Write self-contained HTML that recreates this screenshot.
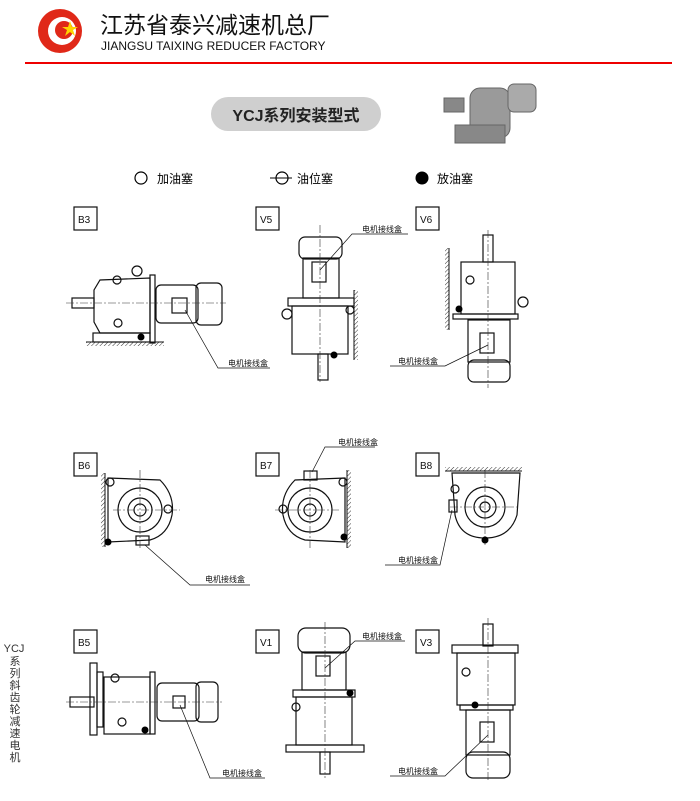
<!DOCTYPE html>
<html><head><meta charset="utf-8"><style>
html,body{margin:0;padding:0;background:#fff;}
svg{display:block;}
text{font-family:"Liberation Sans","Noto Sans CJK SC",sans-serif;}
</style></head><body>
<svg width="700" height="801" viewBox="0 0 700 801" xmlns="http://www.w3.org/2000/svg">
<defs>
<pattern id="h" width="3" height="3" patternUnits="userSpaceOnUse" patternTransform="rotate(45)"><line x1="0" y1="0" x2="0" y2="3" stroke="#333" stroke-width="1"/></pattern>
</defs>
<!-- header -->
<circle cx="60" cy="31" r="22" fill="#e02818"/>
<circle cx="62" cy="31" r="14" fill="#fff"/>
<circle cx="64" cy="30" r="9" fill="#e02818"/>
<polygon points="70,21 72,27 78,27 73,30 75,36 70,32 65,36 67,30 62,27 68,27" fill="#ffd400"/>
<text x="100" y="33" font-size="23" fill="#111">江苏省泰兴减速机总厂</text>
<text x="101" y="50" font-size="12" fill="#111">JIANGSU TAIXING REDUCER FACTORY</text>
<rect x="25" y="62" width="647" height="2" fill="#e00"/>
<rect x="211" y="97" width="170" height="34" rx="17" fill="#cfcfcf"/>
<text x="296" y="121" font-size="16" font-weight="bold" text-anchor="middle" fill="#222">YCJ系列安装型式</text>
<!-- product -->
<g fill="#9a9a9a" stroke="#666">
<rect x="470" y="88" width="40" height="50" rx="10"/>
<rect x="508" y="84" width="28" height="28" rx="6" fill="#aaa"/>
<rect x="444" y="98" width="20" height="14" fill="#888"/>
<rect x="455" y="125" width="50" height="18" fill="#888"/>
</g>
<!-- legend -->
<circle cx="141" cy="178" r="6" fill="none" stroke="#000" stroke-width="1.2"/>
<text x="157" y="183" font-size="12">加油塞</text>
<line x1="270" y1="178" x2="292" y2="178" stroke="#000"/>
<circle cx="282" cy="178" r="6" fill="none" stroke="#000" stroke-width="1.2"/>
<text x="297" y="183" font-size="12">油位塞</text>
<circle cx="422" cy="178" r="6.5" fill="#000"/>
<text x="437" y="183" font-size="12">放油塞</text>
<!-- vertical side text -->
<g font-size="11" fill="#333" text-anchor="middle">
<text x="14" y="652">YCJ</text><text x="15" y="665">系</text><text x="15" y="677">列</text><text x="15" y="689">斜</text><text x="15" y="701">齿</text><text x="15" y="713">轮</text><text x="15" y="725">减</text><text x="15" y="737">速</text><text x="15" y="749">电</text><text x="15" y="761">机</text>
</g>
<g fill="none" stroke="#111" stroke-width="1.2">
<rect x="74" y="207" width="23" height="23"/><rect x="256" y="207" width="23" height="23"/><rect x="416" y="207" width="23" height="23"/>
<rect x="74" y="453" width="23" height="23"/><rect x="256" y="453" width="23" height="23"/><rect x="416" y="453" width="23" height="23"/>
<rect x="74" y="630" width="23" height="23"/><rect x="256" y="630" width="23" height="23"/><rect x="416" y="630" width="23" height="23"/>
<!-- B3 -->
<rect x="72" y="298" width="22" height="10"/>
<path d="M94,290 L100,280 L150,278 L150,333 L100,333 L94,322 Z"/>
<rect x="150" y="275" width="5" height="68"/>
<rect x="93" y="333" width="57" height="9"/>
<rect x="156" y="285" width="42" height="38" rx="5"/>
<rect x="196" y="283" width="26" height="42" rx="5"/>
<rect x="172" y="298" width="15" height="15"/>
<circle cx="137" cy="271" r="5"/><circle cx="117" cy="280" r="4"/><circle cx="118" cy="323" r="4"/>
<path d="M185,310 L218,368 L270,368" stroke-width="0.7"/>
<!-- V5 -->
<rect x="299" y="237" width="43" height="22" rx="6"/>
<rect x="303" y="258" width="36" height="40"/>
<rect x="312" y="262" width="14" height="20"/>
<rect x="288" y="298" width="66" height="8"/>
<rect x="292" y="306" width="56" height="48"/>
<rect x="318" y="354" width="10" height="26"/>
<circle cx="287" cy="314" r="5"/><circle cx="350" cy="310" r="4"/>
<path d="M320,270 L352,234 L408,234" stroke-width="0.7"/>
<!-- V6 -->
<rect x="483" y="235" width="10" height="27"/>
<rect x="461" y="262" width="54" height="52"/>
<rect x="453" y="314" width="65" height="5"/>
<rect x="468" y="320" width="42" height="42"/>
<rect x="468" y="360" width="42" height="22" rx="6"/>
<rect x="480" y="333" width="14" height="20"/>
<circle cx="470" cy="280" r="4"/><circle cx="523" cy="302" r="5"/>
<path d="M488,345 L445,366 L390,366" stroke-width="0.7"/>
<!-- B6 -->
<path d="M108,478 L160,480 Q175,495 172,515 Q168,535 150,540 L108,542 Z"/>
<circle cx="140" cy="510" r="22"/><circle cx="140" cy="510" r="12"/><circle cx="140" cy="510" r="6"/>
<rect x="136" y="536" width="13" height="9"/>
<circle cx="110" cy="482" r="4"/><circle cx="168" cy="509" r="4"/>
<path d="M145,545 L190,585 L250,585" stroke-width="0.7"/>
<!-- B7 -->
<path d="M345,478 L295,480 Q280,495 283,515 Q287,535 305,540 L345,542 Z"/>
<circle cx="310" cy="510" r="22"/><circle cx="310" cy="510" r="12"/><circle cx="310" cy="510" r="6"/>
<rect x="304" y="471" width="13" height="9"/>
<circle cx="343" cy="482" r="4"/><circle cx="283" cy="509" r="4"/>
<path d="M312,472 L325,447 L375,447" stroke-width="0.7"/>
<!-- B8 -->
<path d="M452,473 L520,473 L517,515 Q510,538 485,538 Q460,538 455,515 Z"/>
<circle cx="485" cy="507" r="20"/><circle cx="485" cy="507" r="11"/><circle cx="485" cy="507" r="5"/>
<rect x="449" y="500" width="8" height="12"/>
<circle cx="455" cy="489" r="4"/>
<path d="M452,510 L440,565 L385,565" stroke-width="0.7"/>
<!-- B5 -->
<rect x="70" y="697" width="24" height="10"/>
<rect x="90" y="663" width="7" height="72"/>
<rect x="97" y="672" width="6" height="55"/>
<rect x="104" y="677" width="46" height="57"/>
<rect x="150" y="672" width="5" height="62"/>
<rect x="157" y="683" width="42" height="38" rx="5"/>
<rect x="196" y="682" width="22" height="40" rx="5"/>
<rect x="173" y="696" width="12" height="12"/>
<circle cx="115" cy="678" r="4"/><circle cx="122" cy="722" r="4"/>
<path d="M180,705 L210,778 L265,778" stroke-width="0.7"/>
<!-- V1 -->
<rect x="298" y="628" width="52" height="25" rx="8"/>
<rect x="302" y="652" width="44" height="38"/>
<rect x="316" y="656" width="14" height="20"/>
<rect x="293" y="690" width="62" height="7"/>
<rect x="296" y="697" width="56" height="48"/>
<rect x="286" y="745" width="78" height="7"/>
<rect x="320" y="752" width="10" height="22"/>
<circle cx="296" cy="707" r="4"/>
<path d="M325,668 L355,641 L405,641" stroke-width="0.7"/>
<!-- V3 -->
<rect x="483" y="624" width="10" height="22"/>
<rect x="452" y="645" width="66" height="8"/>
<rect x="457" y="653" width="58" height="52"/>
<rect x="460" y="705" width="53" height="5"/>
<rect x="466" y="710" width="44" height="45"/>
<rect x="466" y="752" width="44" height="26" rx="7"/>
<rect x="480" y="722" width="14" height="20"/>
<circle cx="466" cy="672" r="4"/>
<path d="M488,735 L445,776 L390,776" stroke-width="0.7"/>
</g>
<g stroke="#333" stroke-width="0.6" stroke-dasharray="8,2,2,2" fill="none">
<line x1="66" y1="303" x2="226" y2="303"/><line x1="320" y1="225" x2="320" y2="382"/><line x1="488" y1="230" x2="488" y2="388"/>
<line x1="113" y1="510" x2="180" y2="510"/><line x1="140" y1="470" x2="140" y2="548"/>
<line x1="275" y1="510" x2="340" y2="510"/><line x1="310" y1="470" x2="310" y2="548"/>
<line x1="450" y1="507" x2="520" y2="507"/><line x1="485" y1="470" x2="485" y2="545"/>
<line x1="66" y1="702" x2="222" y2="702"/><line x1="325" y1="622" x2="325" y2="778"/><line x1="488" y1="618" x2="488" y2="782"/>
</g>
<rect x="86" y="342" width="78" height="4" fill="url(#h)"/><line x1="86" y1="342" x2="164" y2="342" stroke="#111"/>
<rect x="354" y="290" width="4" height="70" fill="url(#h)"/><line x1="354" y1="290" x2="354" y2="360" stroke="#111"/>
<rect x="445" y="248" width="4" height="82" fill="url(#h)"/><line x1="449" y1="248" x2="449" y2="330" stroke="#111"/>
<rect x="101" y="473" width="4" height="74" fill="url(#h)"/><line x1="105" y1="473" x2="105" y2="547" stroke="#111"/>
<rect x="347" y="470" width="4" height="78" fill="url(#h)"/><line x1="347" y1="470" x2="347" y2="548" stroke="#111"/>
<rect x="445" y="467" width="77" height="4" fill="url(#h)"/><line x1="445" y1="471" x2="522" y2="471" stroke="#111"/>
<g fill="#000">
<circle cx="141" cy="337" r="3.5"/><circle cx="334" cy="355" r="3.5"/><circle cx="459" cy="309" r="3.5"/>
<circle cx="108" cy="542" r="3.5"/><circle cx="344" cy="537" r="3.5"/><circle cx="485" cy="540" r="3.5"/>
<circle cx="145" cy="730" r="3.5"/><circle cx="350" cy="693" r="3.5"/><circle cx="475" cy="705" r="3.5"/>
</g>
<g font-size="8" fill="#111">
<text x="78" y="223" font-size="10">B3</text><text x="260" y="223" font-size="10">V5</text><text x="420" y="223" font-size="10">V6</text>
<text x="78" y="469" font-size="10">B6</text><text x="260" y="469" font-size="10">B7</text><text x="420" y="469" font-size="10">B8</text>
<text x="78" y="646" font-size="10">B5</text><text x="260" y="646" font-size="10">V1</text><text x="420" y="646" font-size="10">V3</text>
<text x="228" y="366">电机接线盒</text><text x="362" y="232">电机接线盒</text><text x="398" y="364">电机接线盒</text>
<text x="205" y="582">电机接线盒</text><text x="338" y="445">电机接线盒</text><text x="398" y="563">电机接线盒</text>
<text x="222" y="776">电机接线盒</text><text x="362" y="639">电机接线盒</text><text x="398" y="774">电机接线盒</text>
</g>
</svg>
</body></html>
